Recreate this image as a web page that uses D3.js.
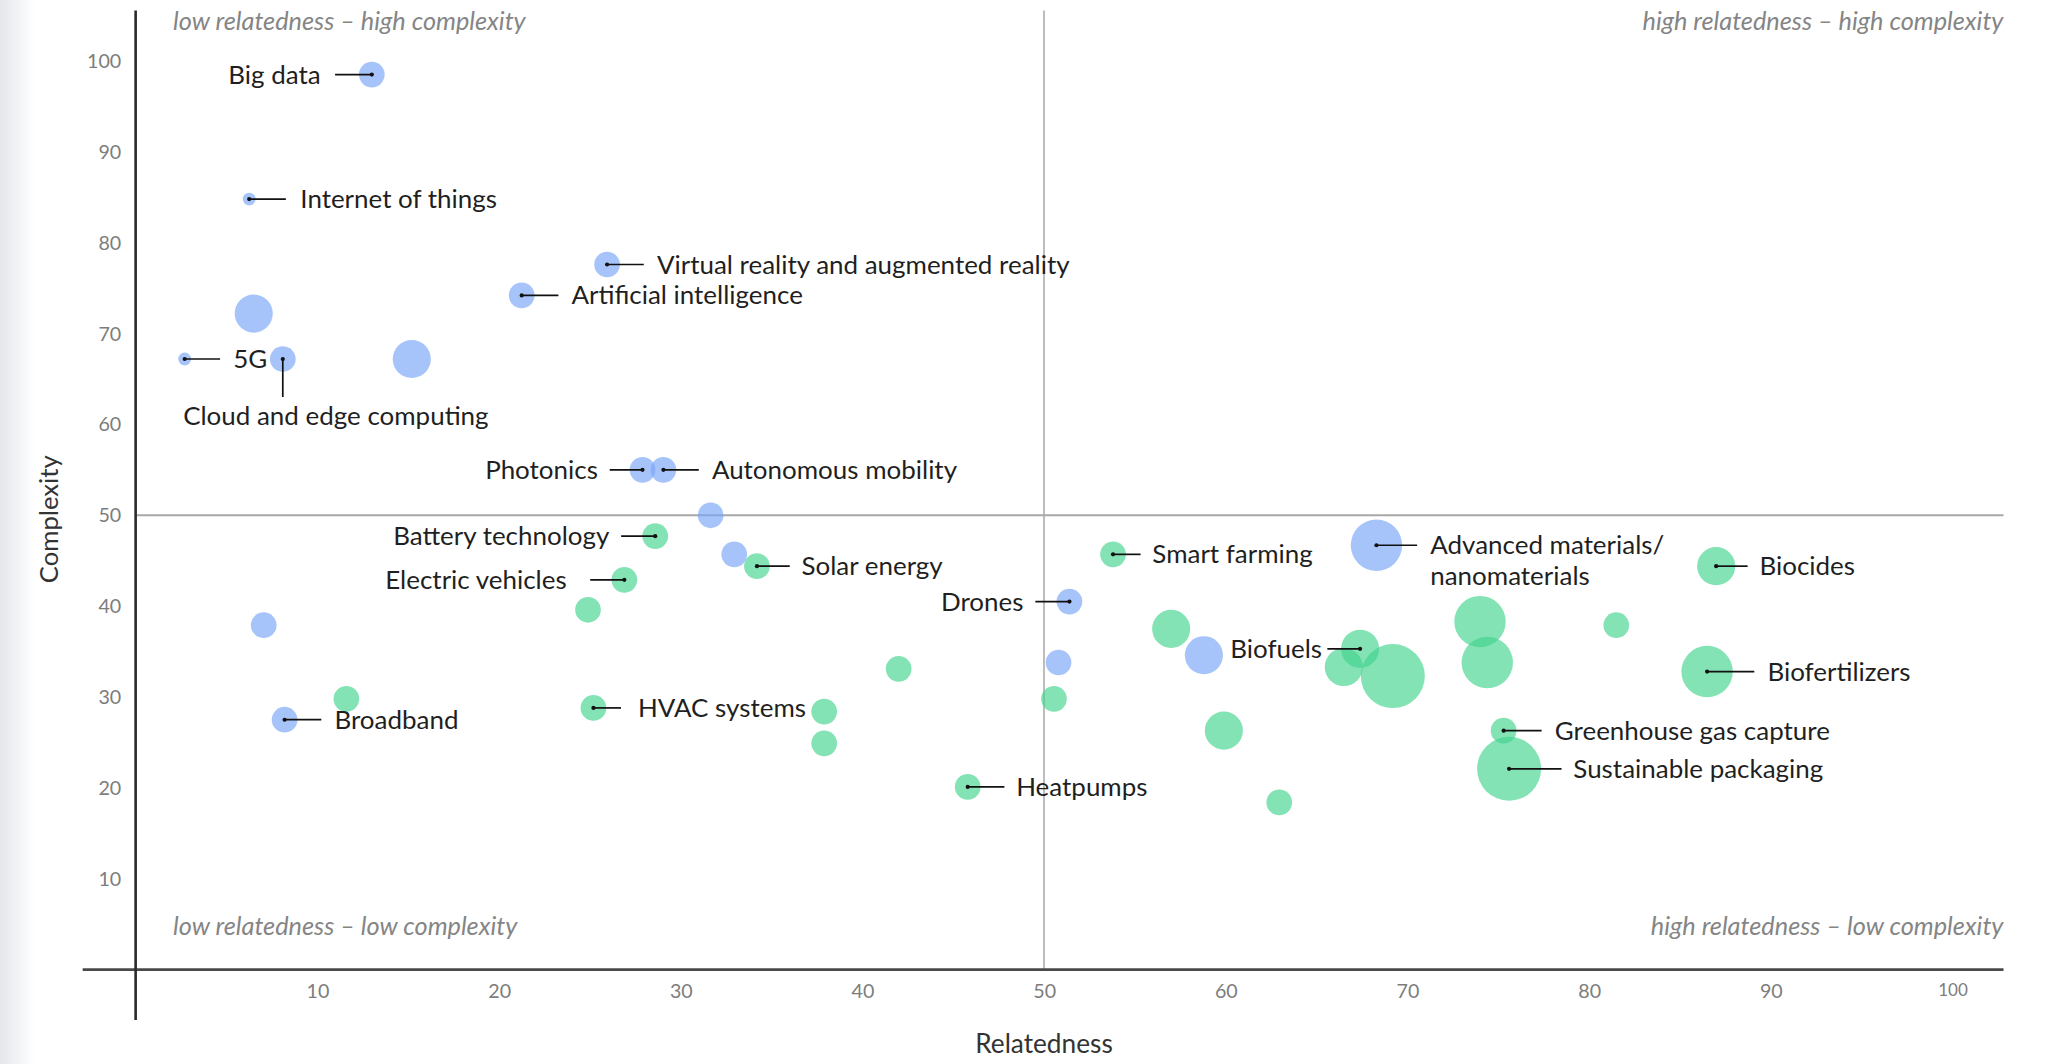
<!DOCTYPE html>
<html>
<head>
<meta charset="utf-8">
<script src="https://cdn.jsdelivr.net/npm/d3@7"></script>
<style>
  html, body { margin: 0; padding: 0; background: #fff; }
  svg { display: block; font-family: Lato, "Open Sans", sans-serif; }
</style>
</head>
<body>
<svg id="chart" width="2056" height="1064" viewBox="0 0 1568 811.5"></svg>
<script>
// ---------- DATA ----------
// Digital technologies (blue)
const digitalNames = ["Big data", "Internet of things", "Virtual reality and augmented reality", "Artificial intelligence", null, "5G", "Cloud and edge computing", null, "Photonics", "Autonomous mobility", null, null, null, "Broadband", "Drones", null, null, "Advanced materials/\nnanomaterials"];
const digitalRelatedness = [13.0, 6.25, 25.95, 21.25, 6.5, 2.7, 8.1, 15.2, 27.9, 29.05, 31.65, 32.95, 7.05, 8.2, 51.4, 50.8, 58.8, 68.3];
const digitalComplexity  = [98.5, 84.8, 77.6, 74.2, 72.2, 67.2, 67.2, 67.2, 55.0, 55.0, 50.0, 45.7, 37.9, 27.5, 40.5, 33.8, 34.6, 46.7];
const digitalSize        = [10, 2.5, 10, 10, 22, 2.5, 10, 22, 10, 10, 10, 10, 10, 10, 10, 10, 22, 40];

// Green technologies (green)
const greenNames = ["Battery technology", "Electric vehicles", null, "Solar energy", null, "HVAC systems", null, null, null, "Heatpumps", null, "Smart farming", null, null, null, null, "Biofuels", null, null, null, "Greenhouse gas capture", "Sustainable packaging", null, "Biocides", "Biofertilizers"];
const greenRelatedness = [28.6, 26.9, 24.9, 34.2, 11.6, 25.2, 37.9, 37.9, 42.0, 45.8, 50.55, 53.8, 57.0, 59.9, 62.95, 66.5, 67.4, 69.2, 74.0, 74.4, 75.3, 75.6, 81.5, 87.0, 86.5];
const greenComplexity  = [47.7, 42.9, 39.6, 44.4, 29.8, 28.8, 28.4, 24.9, 33.1, 20.1, 29.8, 45.7, 37.5, 26.3, 18.4, 33.3, 35.3, 32.3, 38.3, 33.8, 26.3, 22.1, 37.9, 44.4, 32.8];
const greenSize        = [10, 10, 10, 10, 10, 10, 10, 10, 10, 10, 10, 10, 22, 22, 10, 22, 22, 62, 40, 40, 10, 62, 10, 22, 40];

const tickValues = [10, 20, 30, 40, 50, 60, 70, 80, 90, 100];
const quadrantLabels = [
  "low relatedness – high complexity",
  "high relatedness – high complexity",
  "low relatedness – low complexity",
  "high relatedness – low complexity"
];
const xTitle = "Relatedness";
const yTitle = "Complexity";

// ---------- LABEL LAYOUT (placement only) ----------
const labelLayout = {
  "Big data": {side: "left", len: 28, gap: 11},
  "Internet of things": {side: "right", len: 28, gap: 11},
  "Virtual reality and augmented reality": {side: "right", len: 28, gap: 10},
  "Artificial intelligence": {side: "right", len: 28, gap: 10},
  "5G": {side: "right", len: 27, gap: 10},
  "Cloud and edge computing": {side: "below", len: 29, dx: -76, dy: 50},
  "Photonics": {side: "left", len: 25, gap: 9},
  "Autonomous mobility": {side: "right", len: 27, gap: 10},
  "Broadband": {side: "right", len: 28, gap: 10},
  "Drones": {side: "left", len: 26, gap: 9},
  "Advanced materials/\nnanomaterials": {side: "right", len: 31, gap: 10},
  "Battery technology": {side: "left", len: 26, gap: 9},
  "Electric vehicles": {side: "left", len: 26, gap: 18},
  "Solar energy": {side: "right", len: 25, gap: 9},
  "HVAC systems": {side: "right", len: 21, gap: 13},
  "Heatpumps": {side: "right", len: 28, gap: 9},
  "Smart farming": {side: "right", len: 21, gap: 9},
  "Biofuels": {side: "left", len: 25, gap: 4},
  "Greenhouse gas capture": {side: "right", len: 29, gap: 10},
  "Sustainable packaging": {side: "right", len: 40, gap: 9},
  "Biocides": {side: "right", len: 24, gap: 9},
  "Biofertilizers": {side: "right", len: 36, gap: 10}
};

// ---------- BUILD ----------
const points = [];
digitalNames.forEach((n, i) => points.push({name: n, x: digitalRelatedness[i], y: digitalComplexity[i], s: digitalSize[i], g: "digital"}));
greenNames.forEach((n, i) => points.push({name: n, x: greenRelatedness[i], y: greenComplexity[i], s: greenSize[i], g: "green"}));

const svg = d3.select("#chart");
const x = d3.scaleLinear().domain([0, 100]).range([103.4, 1489]);
const y = d3.scaleLinear().domain([0, 100]).range([739.5, 46.5]);
const r = d3.scaleSqrt().domain([0, 100]).range([0, 31]);
const color = d3.scaleOrdinal().domain(["digital", "green"]).range(["rgb(120,165,248)", "rgb(64,212,142)"]);

// left edge shading
const defs = svg.append("defs");
const grad = defs.append("linearGradient").attr("id", "edge").attr("x1", "0").attr("x2", "1");
grad.append("stop").attr("offset", "0").attr("stop-color", "#e3e6ea");
grad.append("stop").attr("offset", "1").attr("stop-color", "#ffffff");
svg.append("rect").attr("x", 0).attr("y", 0).attr("width", 26).attr("height", 811.5).attr("fill", "url(#edge)");

// quadrant lines
svg.append("line").attr("x1", x(50)).attr("x2", x(50)).attr("y1", 8).attr("y2", y(0))
  .attr("stroke", "#9a9a9a").attr("stroke-width", 1);
svg.append("line").attr("x1", x(0)).attr("x2", 1528).attr("y1", y(50)).attr("y2", y(50))
  .attr("stroke", "#a8a8a8").attr("stroke-width", 1.4);

// axes
const xAxis = svg.append("g").attr("transform", `translate(0,${y(0)})`)
  .call(d3.axisBottom(x).tickValues(tickValues).tickSize(0).tickPadding(11).tickFormat(d3.format("d")));
xAxis.select(".domain").remove();
xAxis.selectAll("text").attr("fill", "#7d7d7d").attr("font-size", d => d === 100 ? 13 : 15)
  .style("font-family", "Lato, sans-serif");

const yAxis = svg.append("g").attr("transform", `translate(${x(0)},0)`)
  .call(d3.axisLeft(y).tickValues(tickValues).tickSize(0).tickPadding(11).tickFormat(d3.format("d")));
yAxis.select(".domain").remove();
yAxis.selectAll("text").attr("fill", "#7d7d7d").attr("font-size", 15)
  .style("font-family", "Lato, sans-serif");

// axis lines
svg.append("line").attr("x1", 63).attr("x2", 1528).attr("y1", y(0)).attr("y2", y(0))
  .attr("stroke", "#4a4a4a").attr("stroke-width", 2);
svg.append("line").attr("x1", x(0)).attr("x2", x(0)).attr("y1", 8).attr("y2", 778)
  .attr("stroke", "#2a2a2a").attr("stroke-width", 2);

// axis titles
svg.append("text").attr("x", x(50)).attr("y", 803).attr("text-anchor", "middle")
  .attr("font-size", 20).attr("fill", "#333").text(xTitle);
svg.append("text").attr("transform", "translate(44,396) rotate(-90)").attr("text-anchor", "middle")
  .attr("font-size", 19.6).attr("fill", "#333").text(yTitle);

// quadrant labels
const ql = svg.append("g").attr("font-size", 19.3).attr("font-style", "italic").attr("fill", "#858585");
ql.append("text").attr("x", 132).attr("y", 23).text(quadrantLabels[0]);
ql.append("text").attr("x", 1528).attr("y", 23).attr("text-anchor", "end").text(quadrantLabels[1]);
ql.append("text").attr("x", 132).attr("y", 713).text(quadrantLabels[2]);
ql.append("text").attr("x", 1528).attr("y", 713).attr("text-anchor", "end").text(quadrantLabels[3]);

// bubbles
svg.append("g").selectAll("circle").data(points).join("circle")
  .attr("cx", d => x(d.x)).attr("cy", d => y(d.y)).attr("r", d => r(d.s))
  .attr("fill", d => color(d.g)).attr("fill-opacity", 0.65);

// labels
const lg = svg.append("g").attr("font-size", 19.8).attr("fill", "#1f1f1f");
points.filter(d => d.name).forEach(d => {
  const L = labelLayout[d.name];
  const cx = x(d.x), cy = y(d.y);
  if (L.side === "below") {
    lg.append("line").attr("x1", cx).attr("x2", cx).attr("y1", cy).attr("y2", cy + L.len)
      .attr("stroke", "#111").attr("stroke-width", 1.3);
    lg.append("text").attr("x", cx + L.dx).attr("y", cy + L.dy).text(d.name);
  } else {
    const dir = L.side === "left" ? -1 : 1;
    lg.append("line").attr("x1", cx).attr("x2", cx + dir * L.len).attr("y1", cy).attr("y2", cy)
      .attr("stroke", "#111").attr("stroke-width", 1.3);
    const lines = d.name.split("\n");
    const t = lg.append("text").attr("x", cx + dir * (L.len + L.gap)).attr("y", cy)
      .attr("text-anchor", dir < 0 ? "end" : "start");
    lines.forEach((s, i) => {
      t.append("tspan").attr("x", cx + dir * (L.len + L.gap))
        .attr("dy", i === 0 ? "0.35em" : "1.2em").text(s);
    });
  }
  lg.append("circle").attr("cx", cx).attr("cy", cy).attr("r", 1.6).attr("fill", "#111");
});
</script>
</body>
</html>
